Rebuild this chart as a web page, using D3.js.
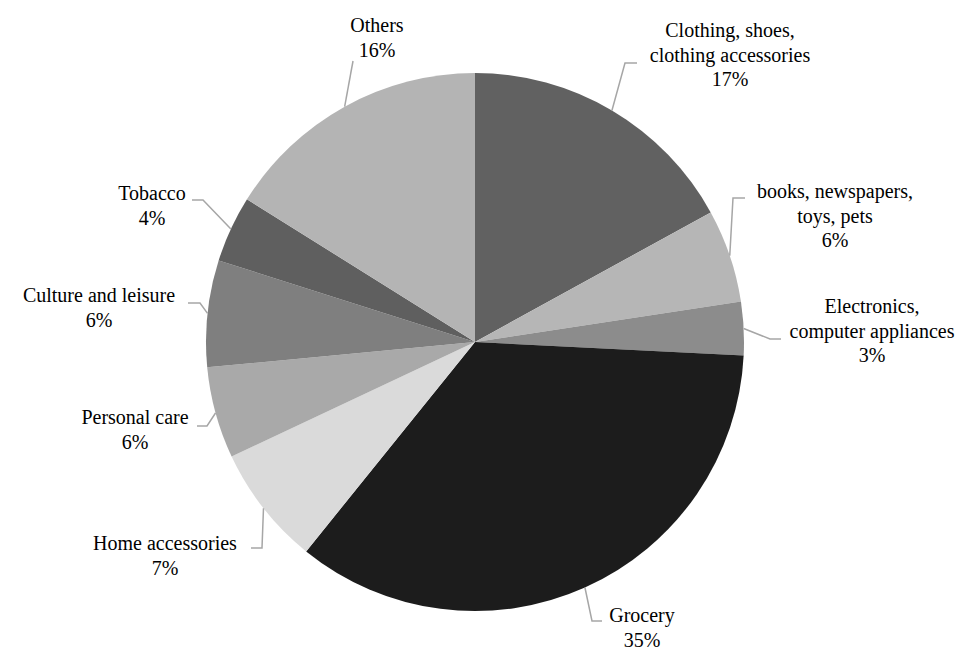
<!DOCTYPE html>
<html>
<head>
<meta charset="utf-8">
<script src="https://cdn.jsdelivr.net/npm/d3@7"></script>
</head>
<body style="margin:0">
<script>
// categories, values (share of spending, %), slice greys
var categories = [
  ['Clothing, shoes,', 'clothing accessories'],
  ['books, newspapers,', 'toys, pets'],
  ['Electronics,', 'computer appliances'],
  ['Grocery'],
  ['Home accessories'],
  ['Personal care'],
  ['Culture and leisure'],
  ['Tobacco'],
  ['Others']
];
var values = [17.0, 5.6, 3.2, 35.0, 7.2, 5.5, 6.4, 4.0, 16.1];
var colors = ['#616161', '#b6b6b6', '#8c8c8c', '#1c1c1c', '#dadada', '#a9a9a9', '#7f7f7f', '#5f5f5f', '#b4b4b4'];

// label layout: leader elbow, leader end, text centre x, first baseline y
var labelPos = [
  { elbow: [625, 63],  end: [637, 63],  x: 730, y: 37 },
  { elbow: [733, 198], end: [745, 198], x: 835, y: 198 },
  { elbow: [770, 339], end: [781, 339], x: 872, y: 313 },
  { elbow: [592, 621], end: [602, 621], x: 642, y: 622 },
  { elbow: [262, 548], end: [251, 548], x: 165, y: 550 },
  { elbow: [207, 426], end: [197, 426], x: 135, y: 424 },
  { elbow: [200, 303], end: [188, 303], x: 99,  y: 302 },
  { elbow: [203, 200], end: [192, 200], x: 152, y: 200 },
  { elbow: [353, 61],  end: [353, 61],  x: 377, y: 32 }
];

var width = 975, height = 650;
var cx = 475, cy = 342, r = 269;
var lineH = 24.5;

var svg = d3.select('body').append('svg')
  .attr('width', width)
  .attr('height', height)
  .style('font-family', "'Liberation Serif', 'Times New Roman', Times");

var pie = d3.pie().sort(null).value(function (d) { return d; });
var arcs = pie(values);
var total = d3.sum(values);

var arc = d3.arc().innerRadius(0).outerRadius(r);

var g = svg.append('g').attr('transform', 'translate(' + cx + ',' + cy + ')');

g.selectAll('path')
  .data(arcs)
  .enter()
  .append('path')
  .attr('d', arc)
  .attr('fill', function (d, i) { return colors[i]; });

// leader lines
svg.selectAll('polyline')
  .data(arcs)
  .enter()
  .append('polyline')
  .attr('points', function (d, i) {
    var a = (d.startAngle + d.endAngle) / 2;
    var p = [cx + r * Math.sin(a), cy - r * Math.cos(a)];
    return [p, labelPos[i].elbow, labelPos[i].end].map(function (q) { return q.join(','); }).join(' ');
  })
  .attr('fill', 'none')
  .attr('stroke', '#a6a6a6')
  .attr('stroke-width', 1.5);

// labels: one text element per line
var lineData = [];
arcs.forEach(function (d, i) {
  var lines = categories[i].concat([Math.round(d.value / total * 100) + '%']);
  lines.forEach(function (s, j) {
    lineData.push({ s: s, x: labelPos[i].x, y: labelPos[i].y + j * lineH });
  });
});

svg.selectAll('text')
  .data(lineData)
  .enter()
  .append('text')
  .attr('x', function (d) { return d.x; })
  .attr('y', function (d) { return d.y; })
  .attr('text-anchor', 'middle')
  .attr('font-size', 20)
  .style('font-family', "'Liberation Serif', 'Times New Roman', Times")
  .text(function (d) { return d.s; });
</script>
</body>
</html>
